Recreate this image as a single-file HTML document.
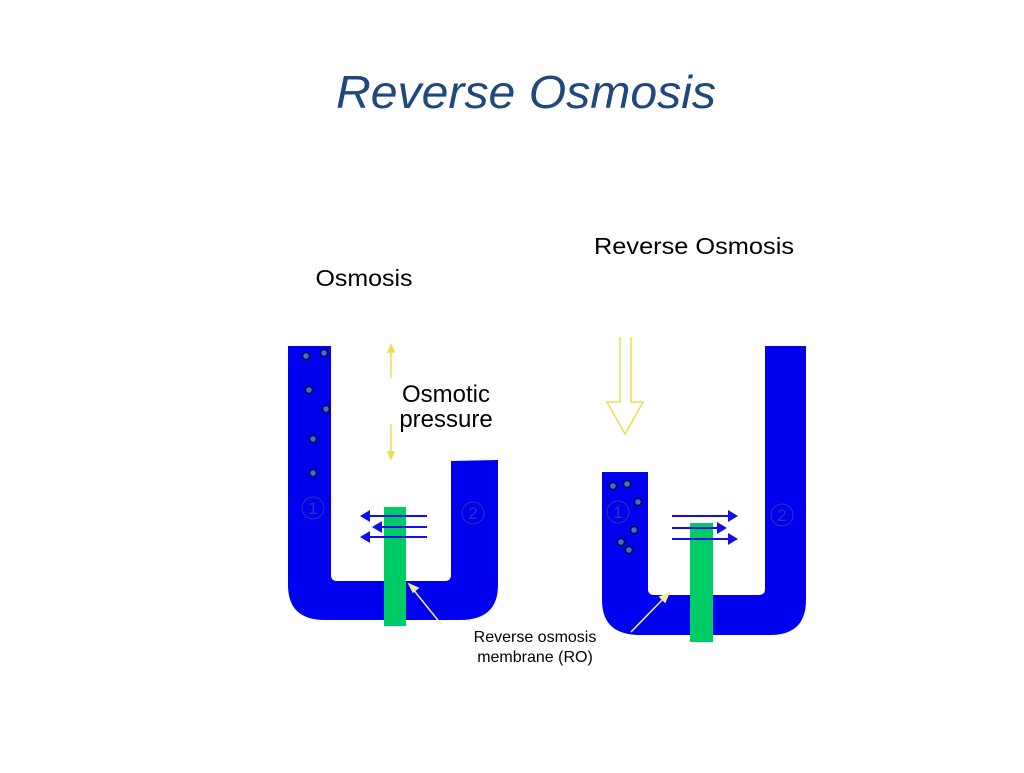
<!DOCTYPE html>
<html><head><style>
body{margin:0;width:1024px;height:768px;background:#fff;overflow:hidden;font-family:"Liberation Sans",sans-serif}
</style></head><body>
<svg width="1024" height="768" xmlns="http://www.w3.org/2000/svg">
<text x="526" y="108" text-anchor="middle" font-family="Liberation Sans" font-style="italic" font-size="46" fill="#1f497d" textLength="380" lengthAdjust="spacingAndGlyphs">Reverse Osmosis</text>
<text x="364" y="286" text-anchor="middle" font-size="23" fill="#000" textLength="97" lengthAdjust="spacingAndGlyphs">Osmosis</text>
<text x="694" y="254" text-anchor="middle" font-size="23" fill="#000" textLength="200" lengthAdjust="spacingAndGlyphs">Reverse Osmosis</text>
<text x="446" y="402" text-anchor="middle" font-size="24" fill="#000">Osmotic</text>
<text x="446" y="427" text-anchor="middle" font-size="24" fill="#000">pressure</text>
<text x="535" y="642" text-anchor="middle" font-size="16" fill="#000">Reverse osmosis</text>
<text x="535" y="662" text-anchor="middle" font-size="16" fill="#000">membrane (RO)</text>
<path d="M288 346 H331 V575 Q331 581 337 581 H445 Q451 581 451 575 V461 L498 460 V585 Q498 620 460 620 H325 Q288 620 288 585 Z" fill="#0000f0"/>
<path d="M602 472 H648 V589 Q648 595 654 595 H759 Q765 595 765 589 V346 H806 V600 Q806 635 770 635 H640 Q602 635 602 600 Z" fill="#0000f0"/>
<rect x="384" y="507" width="22" height="119" fill="#00cc66"/>
<rect x="690" y="523" width="23" height="119" fill="#00cc66"/>
<g fill="#4466ee" stroke="#111" stroke-width="1.5">
<circle cx="306" cy="356" r="3.5"/><circle cx="324" cy="353" r="3.5"/><circle cx="309" cy="390" r="3.5"/><circle cx="326" cy="409" r="3.5"/><circle cx="313" cy="439" r="3.5"/><circle cx="313" cy="473" r="3.5"/>
<circle cx="613" cy="486" r="3.5"/><circle cx="627" cy="484" r="3.5"/><circle cx="638" cy="502" r="3.5"/><circle cx="634" cy="530" r="3.5"/><circle cx="621" cy="542" r="3.5"/><circle cx="629" cy="550" r="3.5"/>
</g>
<g fill="none" stroke="#3333aa" stroke-width="1">
<circle cx="313" cy="508" r="11"/><circle cx="473" cy="513" r="11"/><circle cx="618" cy="512" r="11"/><circle cx="782" cy="515" r="11"/>
</g>
<g font-size="17" fill="#3333aa" text-anchor="middle">
<text x="313" y="514">1</text><text x="473" y="519">2</text><text x="618" y="518">1</text><text x="782" y="521">2</text>
</g>
<g stroke="#1010ee" stroke-width="2" fill="#1010ee">
<line x1="367" y1="516" x2="427" y2="516"/><line x1="379" y1="527" x2="427" y2="527"/><line x1="367" y1="537" x2="427" y2="537"/>
<polygon points="360,516 370,510 370,522" stroke="none"/><polygon points="372,527 382,521 382,533" stroke="none"/><polygon points="360,537 370,531 370,543" stroke="none"/>
<line x1="672" y1="516" x2="730" y2="516"/><line x1="672" y1="528" x2="720" y2="528"/><line x1="672" y1="539" x2="730" y2="539"/>
<polygon points="738,516 728,510 728,522" stroke="none"/><polygon points="727,528 717,522 717,534" stroke="none"/><polygon points="738,539 728,533 728,545" stroke="none"/>
</g>
<g stroke="#e8e050" stroke-width="1.5" fill="none">
<line x1="391" y1="350" x2="391" y2="378"/><polygon points="391,345 388,352 394,352" fill="#e8e050"/>
<line x1="391" y1="424" x2="391" y2="454"/><polygon points="391,459 388,452 394,452" fill="#e8e050"/>
<path d="M620 337 V402 H607 L625 434 L643 402 H631 V337"/>
</g>
<g stroke="#eeee99" stroke-width="1.5" fill="#eeee99">
<line x1="441" y1="624" x2="412" y2="588"/><polygon points="409,584 418,588 413,592"/>
<line x1="631" y1="632" x2="666" y2="596"/><polygon points="669,593 665,602 660,597"/>
</g>
</svg>
</body></html>
